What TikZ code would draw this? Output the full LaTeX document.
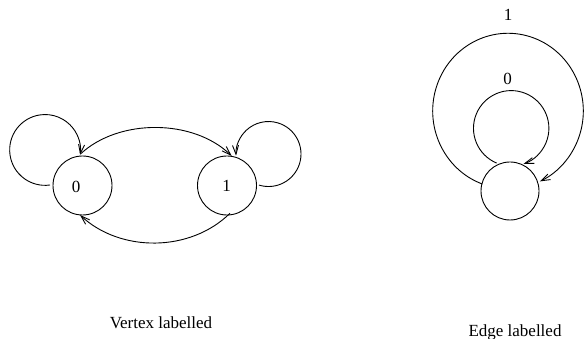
\documentclass[tikz,border=0pt]{standalone}
\usepackage{fontspec}
\setmainfont{Liberation Serif}
\usetikzlibrary{arrows.meta,calc}
\begin{document}
\begin{tikzpicture}[x=1pt,y=1pt,
  state/.style={circle,draw,line width=0.9pt,inner sep=0pt,minimum size=58pt},
  lbl/.style={font=\fontsize{17}{20}\selectfont,inner sep=0pt},
  edge/.style={line width=0.9pt,-{Straight Barb[length=9pt,width=6pt]}},
  line width=0.9pt]
\useasboundingbox (0,0) rectangle (584,339);
% vertex labelled graph
\node[state,minimum size=59pt] (n0) at (82.5,153.5) {};
\node[state,minimum size=59pt] (n1) at (227,153.5) {};
\node[lbl] (l0) at (76.2,152.3) {0};
\node[lbl] (l1) at (226.7,153) {1};
\draw[edge] ($(n0)+(-32.5,0.5)$) arc[start angle=-82,end angle=-368,radius=35.4];
\draw[edge] ($(n1)+(32,0.4)$) arc[start angle=-107,end angle=183,radius=32.5];
\draw[edge] ($(n0)+(-2,31.5)$) .. controls ($(n0)+(36,67)$) and ($(n1)+(-34,67)$) .. ($(n1)+(4.7,29.5)$);
\draw[edge] ($(n1)+(3,-27.8)$) .. controls ($(n1)+(-37,-67)$) and ($(n0)+(38,-67)$) .. ($(n0)+(-2.5,-29.5)$);
% edge labelled graph
\node[state] (ne) at (510,148) {};
\draw[edge] ($(ne)+(-27.75,7)$) arc[start angle=250,end angle=-65,x radius=75.3,y radius=77.7];
\draw[edge] ($(ne)+(-13.3,27.9)$) arc[start angle=247.4,end angle=-71,radius=37.7];
\node[lbl] (e1) at (508,324.3) {1};
\node[lbl] (e0) at (507.5,260) {0};
% captions
\node[lbl,anchor=base] (c1) at (161,10.5) {Vertex labelled};
\node[lbl,anchor=base] (c2) at (515,2.3) {Edge labelled};
\end{tikzpicture}
\end{document}
